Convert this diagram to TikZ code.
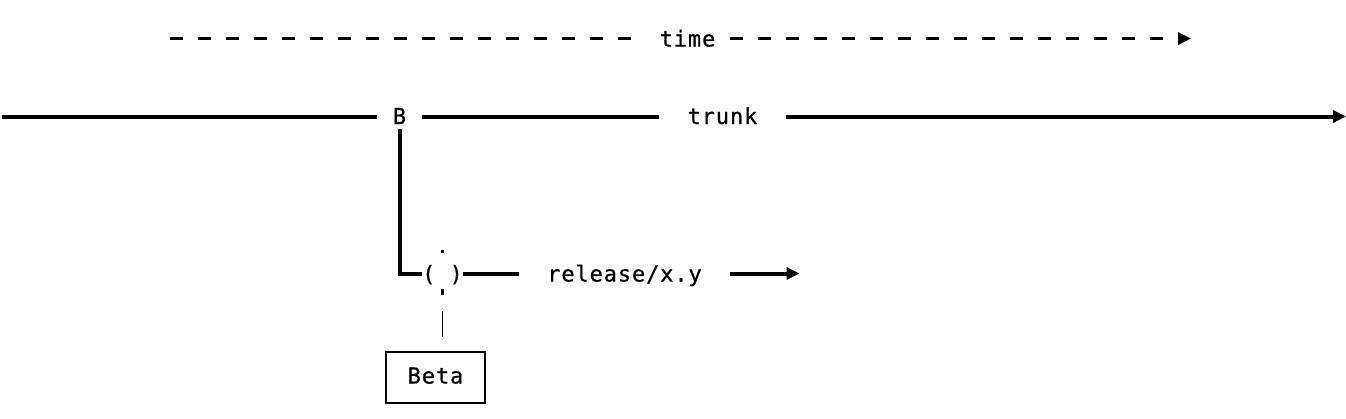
\documentclass[tikz,border=0pt]{standalone}
\usepackage{fontspec}
\setmainfont{DejaVu Sans Mono}[LetterSpace=4,FakeBold=0.6]
\usetikzlibrary{arrows.meta}
\tikzset{
    x=1pt,y=-1pt,
    txt/.style = {inner sep=0pt, text height=16pt, text depth=0pt, font=\fontsize{22}{22}\selectfont},
    thickline/.style = {line width=4pt},
    timeline/.style = {line width=2.5pt, dash pattern=on 13pt off 15pt},
    endtip/.style = {-{Triangle[length=13pt,width=12pt]}},
    betabox/.style = {txt, draw, line width=1.8pt, minimum width=99pt, minimum height=51pt, text depth=4pt}
}
\begin{document}
\begin{tikzpicture}
    \useasboundingbox[fill=white] (0,0) rectangle (1346,418);

    % time axis
    \coordinate (t0) at (169.5,38.5);
    \coordinate (t1) at (1191,38.5);
    \node[txt,minimum width=85pt] (time) at (687.5,38.5) {time};
    \draw[timeline] (t0) -- (time);
    \draw[timeline,endtip] (time) -- (t1);

    % trunk
    \coordinate (w) at (2,116.5);
    \coordinate (e) at (1346,116.5);
    \node[txt,minimum width=45pt,minimum height=26pt] (B) at (399.5,116) {B};
    \node[txt,minimum width=127pt] (trunk) at (722.5,116) {trunk};
    \draw[thickline] (w) -- (w -| B.west);
    \draw[thickline] (B.east |- w) -- (w -| trunk.west);
    \draw[thickline,endtip] (trunk.east |- w) -- (e);

    % release branch
    \node[txt] (join) at (442.5,273.5) {( )};
    \node[txt,minimum width=211pt] (rel) at (624.5,273.5) {release/x.y};
    \coordinate (r1) at (799.5,273.5);
    \draw[thickline] (B) |- (join);
    \draw[thickline] (join) -- (rel);
    \draw[thickline,endtip] (rel) -- (r1);

    % beta tag
    \node[betabox] (beta) at (435.5,377.5) {Beta};
    \fill (440.5,249.5) rectangle (444,253);
    \draw[line width=3pt] (442,289) -- (442,295);
    \draw[line width=1.5pt,shorten <=29pt,shorten >=14pt] (join) -- (join |- beta.north);
\end{tikzpicture}
\end{document}
